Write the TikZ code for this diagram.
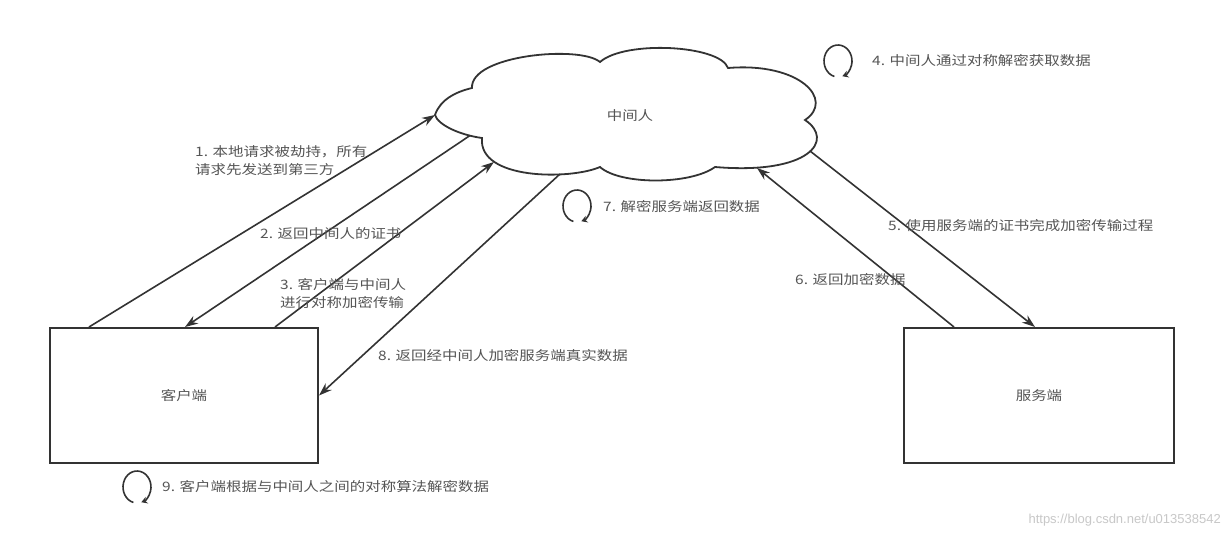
\documentclass[tikz,border=0pt]{standalone}
\usepackage{fontspec}
\newfontfamily\cjk[FakeStretch=1.19]{Noto Sans CJK SC}
\newfontfamily\wmfont{Liberation Sans}
\usetikzlibrary{arrows.meta,calc}
\definecolor{linec}{HTML}{333333}
\definecolor{textc}{HTML}{555555}
\definecolor{wmc}{HTML}{C8C8C8}
\begin{document}
\begin{tikzpicture}[x=1pt,y=-1pt,
  entitybox/.style={draw=linec,line width=2pt,minimum width=268pt,minimum height=135pt,inner sep=0pt,font=\fontsize{13}{15}\cjk,text=textc},
  conn/.style={draw=linec,line width=1.6pt,-{Stealth[length=13pt,width=9pt]}},
  lbl/.style={anchor=west,inner sep=0pt,font=\fontsize{13}{18}\cjk,text=textc,align=left},
  selfloop/.style={draw=linec,line width=1.6pt,-{Stealth[length=6pt,width=7pt]}},
  cloudline/.style={draw=linec,line width=1.8pt,fill=white}]
\fill[white] (0,0) rectangle (1228,538);
\useasboundingbox (0,0) rectangle (1228,538);

% cloud (middle man)
\draw[cloudline] (435,115) .. controls (440,100) and (455,92) .. (472,88)
  .. controls (470,55) and (580,45) .. (600,62)
  .. controls (625,40) and (720,45) .. (728,68)
  .. controls (800,62) and (835,100) .. (805,120)
  .. controls (835,140) and (810,175) .. (715,167)
  .. controls (690,185) and (620,185) .. (600,167)
  .. controls (570,180) and (478,180) .. (482,138)
  .. controls (460,135) and (438,125) .. (435,115) -- cycle;
\node[font=\fontsize{13}{15}\cjk,text=textc] (mid) at (630,116) {中间人};

% cloud boundary points
\coordinate (c1) at (435,115);
\coordinate (c2) at (470,135.5);
\coordinate (c3) at (494,162);
\coordinate (c8) at (560,174);
\coordinate (c6) at (757,168);
\coordinate (c5) at (810,151);

% boxes
\node[entitybox] (client) at (184,395.5) {客户端};
\node[entitybox,minimum width=270pt] (server) at (1039,395.5) {服务端};

\coordinate (n1) at ($(client.north west)+(40,0)$);
\coordinate (n2) at ($(client.north west)+(136,0)$);
\coordinate (n3) at ($(client.north west)+(226,0)$);
\coordinate (s6) at ($(server.north west)+(51,0)$);
\coordinate (s5) at ($(server.north west)+(132,0)$);

% connectors
\draw[conn] (n1) -- (c1);
\draw[conn] (c2) -- (n2);
\draw[conn] (n3) -- (c3);
\draw[conn] (c8) -- (client.east);
\draw[conn] (c5) -- (s5);
\draw[conn] (s6) -- (c6);

% labels
\node[lbl] (t1) at (195,161) {1. 本地请求被劫持，所有\\请求先发送到第三方};
\node[lbl] (t2) at (260,234) {2. 返回中间人的证书};
\node[lbl] (t3) at (280,294) {3. 客户端与中间人\\进行对称加密传输};
\node[lbl] (t8) at (378,356) {8. 返回经中间人加密服务端真实数据};
\node[lbl] (t7) at (603,207) {7. 解密服务端返回数据};
\node[lbl] (t4) at (872,61) {4. 中间人通过对称解密获取数据};
\node[lbl] (t5) at (888,226) {5. 使用服务端的证书完成加密传输过程};
\node[lbl] (t6) at (795,280) {6. 返回加密数据};
\node[lbl] (t9) at (162,487) {9. 客户端根据与中间人之间的对称算法解密数据};

% self loops
\coordinate (l4) at (838,61);
\coordinate (l7) at (577,206);
\coordinate (l9) at (137,487);
\draw[selfloop] ($(l4)+({14*cos(-255)},{16*sin(-255)})$) arc[start angle=-255,end angle=72,x radius=14,y radius=16];
\draw[selfloop] ($(l7)+({14*cos(-255)},{16*sin(-255)})$) arc[start angle=-255,end angle=72,x radius=14,y radius=16];
\draw[selfloop] ($(l9)+({14*cos(-255)},{16*sin(-255)})$) arc[start angle=-255,end angle=72,x radius=14,y radius=16];

% watermark
\node[anchor=east,inner sep=0pt,font=\fontsize{13}{15}\wmfont,text=wmc] (wm) at (1221,520) {https://blog.csdn.net/u013538542};
\end{tikzpicture}
\end{document}
